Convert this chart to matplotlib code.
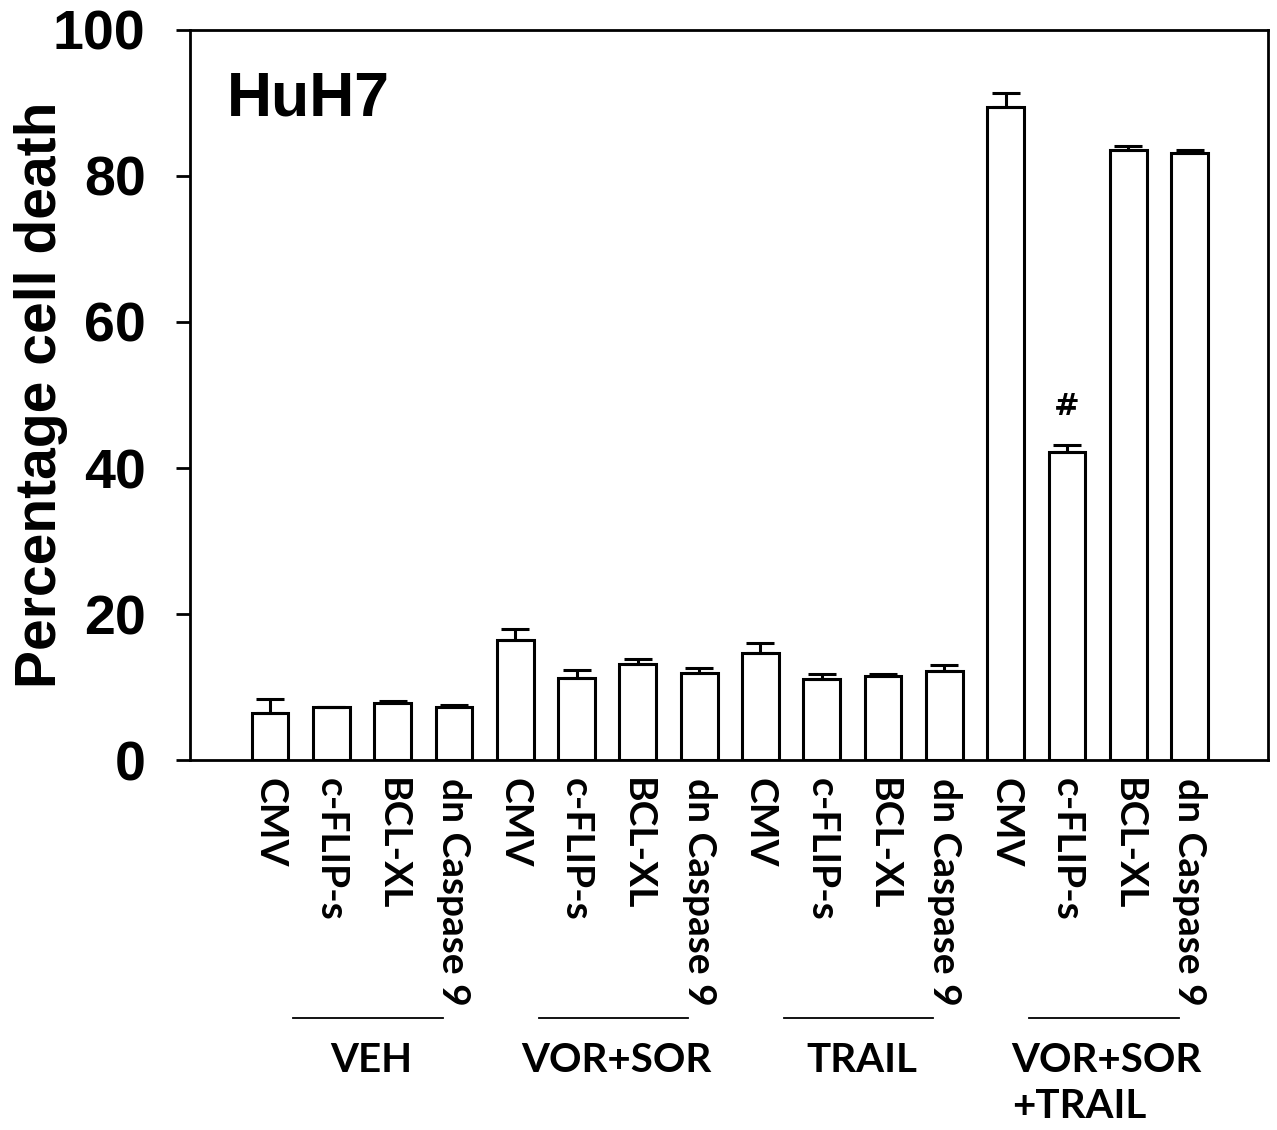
import matplotlib.pyplot as plt
import numpy as np

# values
treatments = ["CMV", "c-FLIP-s", "BCL-XL", "dn Caspase 9"]
groups = ["VEH", "VOR+SOR", "TRAIL", "VOR+SOR\n+TRAIL"]

veh = [6.5, 7.2, 7.8, 7.2]
veh_err = [1.9, 0.1, 0.3, 0.4]
vor_sor = [16.4, 11.2, 13.1, 11.9]
vor_sor_err = [1.6, 1.1, 0.7, 0.7]
trail = [14.6, 11.1, 11.5, 12.2]
trail_err = [1.4, 0.7, 0.3, 0.8]
vor_sor_trail = [89.4, 42.2, 83.6, 83.1]
vor_sor_trail_err = [1.9, 1.0, 0.5, 0.5]

values = veh + vor_sor + trail + vor_sor_trail
errors = veh_err + vor_sor_err + trail_err + vor_sor_trail_err
labels = treatments * len(groups)
mark_index = 13   # c-FLIP-s under VOR+SOR+TRAIL gets the '#'

lab_font = "Lato"
num_font = "Liberation Sans"

fig = plt.figure(figsize=(12.77, 11.3), dpi=100)
ax = fig.add_axes([0.1488, 0.3274, 0.8442, 0.6461])

x = np.arange(len(values))
ax.bar(x, values, width=0.6, color="white", edgecolor="black", linewidth=2.2,
       yerr=[np.zeros(len(errors)), errors], capsize=10,
       error_kw=dict(elinewidth=2.2, capthick=2.2, ecolor="black"), zorder=2)

ax.text(x[mark_index], values[mark_index] + errors[mark_index] + 3.3, "#",
        ha="center", va="bottom", fontsize=22, fontweight="bold",
        family="DejaVu Sans")

ax.set_xlim(-1.305, 16.28)
ax.set_ylim(0, 100)
ax.set_yticks([0, 20, 40, 60, 80, 100])
for lbl in ax.get_yticklabels():
    lbl.set_fontfamily(num_font)
    lbl.set_fontweight("bold")
    lbl.set_fontsize(40)
ax.tick_params(axis="y", direction="out", length=10, width=2, pad=22)
ax.set_ylabel("Percentage cell death", fontsize=41, fontweight="bold",
              family=num_font)
ax.yaxis.set_label_coords(-0.113, 0.5)

ax.set_xticks(x)
ax.set_xticklabels(labels, rotation=270, fontsize=28, fontweight="bold",
                   family=lab_font)
ax.tick_params(axis="x", length=0, pad=13)

for s in ax.spines.values():
    s.set_linewidth(2)

ax.text(0.034, 0.905, "HuH7", transform=ax.transAxes, fontsize=45,
        fontweight="bold", family=num_font, ha="left", va="center")

# group brackets and names under the tick labels
trans = ax.get_xaxis_transform()
n = len(treatments)
for i, g in enumerate(groups):
    c = x[i * n:(i + 1) * n].mean()
    ax.plot([c + 0.1 - 1.22, c + 0.1 + 1.22], [-0.353, -0.353], color="black",
            lw=1.3, transform=trans, clip_on=False)
    ax.text(c + 0.15, -0.386, g, transform=trans, ha="center", va="top",
            fontsize=29, fontweight="bold", family=lab_font,
            multialignment="left", linespacing=1.3)

fig.savefig("out.png", dpi=100)
